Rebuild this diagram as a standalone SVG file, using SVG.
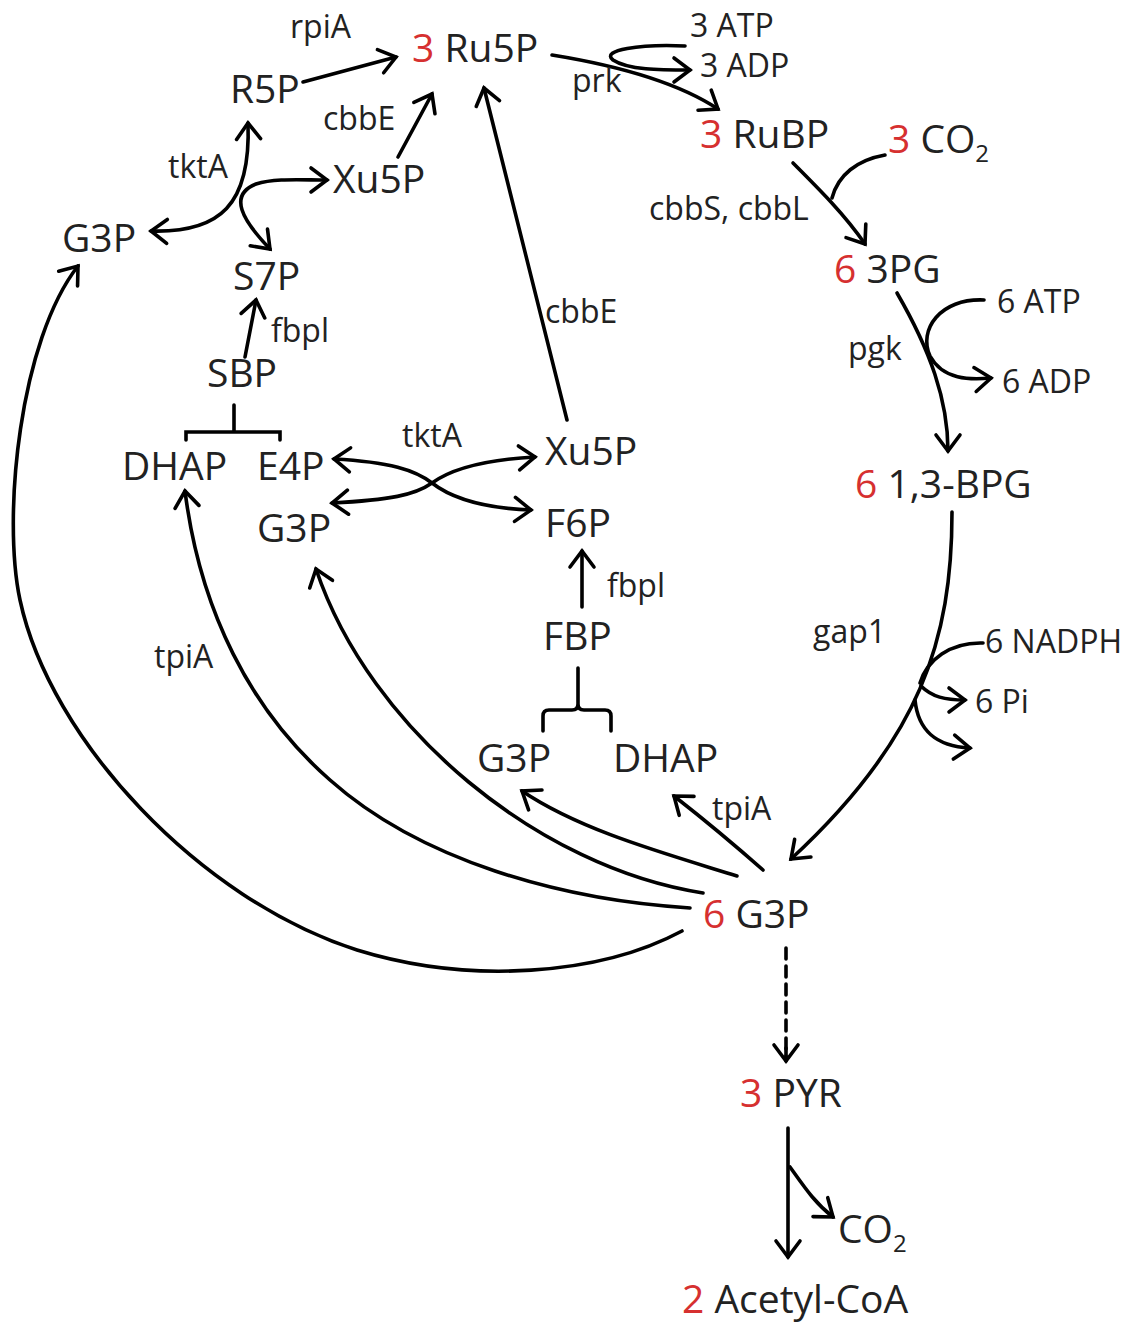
<svg xmlns="http://www.w3.org/2000/svg" width="1131" height="1323" viewBox="0 0 1131 1323">
<style>
text{font-family:"Open Sans","Noto Sans","Liberation Sans",sans-serif;fill:#222}
.m{font-size:39px}
.s{font-size:32px}
.r{fill:#d63030}
.sub{font-size:24px}
.c{fill:none;stroke:#000;stroke-width:3.6;stroke-linecap:round}
.a{marker-end:url(#ah)}
.b{marker-start:url(#ah);marker-end:url(#ah)}
</style>
<defs>
<marker id="ah" viewBox="-20 -15 24 30" markerWidth="24" markerHeight="30" refX="0" refY="0" orient="auto-start-reverse" markerUnits="userSpaceOnUse" overflow="visible">
<path d="M-16,-12 L0,0 L-16,12" fill="none" stroke="#000" stroke-width="3.6" stroke-linecap="round" stroke-linejoin="miter"/>
</marker>
</defs>
<rect width="1131" height="1323" fill="#fff"/>

<g id="connectors">
<!-- top left -->
<path class="c a" d="M303,82 L396,57"/>
<path class="c a" d="M398,157 L432,94"/>
<path class="c b" d="M151,231 C 220,233 251,205 248,123"/>
<path class="c b" d="M270,249 C 242,220 228,195 256,184 C 275,178 300,180 327,180"/>
<path class="c a" d="M245,357 L256,300"/>
<path class="c" d="M234,405 L234,432 M186,440 L186,432 L280,432 L280,440"/>
<!-- middle tktA crossing -->
<path class="c b" d="M334,459 C 390,462 415,470 432,483 C 450,497 480,508 531,510"/>
<path class="c b" d="M332,503 C 390,500 415,495 432,483 C 450,470 480,460 535,457"/>
<path class="c a" d="M567,420 L484,88"/>
<!-- FBP -->
<path class="c a" d="M582,607 L582,551"/>
<path class="c" d="M578,668 L578,704 Q578,710 572,710 L549,710 Q543,710 543,716 L543,731 M578,704 Q578,710 584,710 L605,710 Q611,710 611,716 L611,731"/>
<!-- right side -->
<path class="c a" d="M552,55 C 620,66 680,84 718,109"/>
<path class="c a" d="M685,46 C 640,44 600,50 613,60 C 628,70 660,70 690,70"/>
<path class="c a" d="M793,163 C 820,190 845,215 865,244"/>
<path class="c" d="M885,155 C 857,160 838,175 832,198"/>
<path class="c a" d="M897,293 C 930,350 948,400 948,451"/>
<path class="c a" d="M984,300 C 940,298 918,330 930,356 C 943,380 970,380 991,378"/>
<path class="c a" d="M952,512 C 952,640 920,740 791,859"/>
<path class="c" d="M983,643 C 950,642 927,660 920,683"/>
<path class="c a" d="M921,686 C 932,697 945,700 965,700"/>
<path class="c a" d="M915,700 C 918,730 935,746 970,748"/>
<!-- arcs from 6 G3P -->
<path class="c a" d="M763,870 Q 720,832 674,796"/>
<path class="c a" d="M737,876 C 660,852 580,830 522,791"/>
<path class="c a" d="M703,893 C 540,868 370,730 316,569"/>
<path class="c a" d="M690,908 C 560,900 420,860 330,780 C 250,710 200,610 185,491"/>
<path class="c a" d="M682,931 C 600,975 470,985 357,950 C 200,900 50,740 20,600 C 2,515 20,340 78,266"/>
<!-- bottom -->
<path class="c" d="M786,948 L786,1058" stroke-dasharray="11,7" stroke-linecap="butt"/>
<path class="c a" d="M786,1048 L786,1061"/>
<path class="c a" d="M788,1128 L788,1257"/>
<path class="c a" d="M790,1167 C 805,1188 815,1203 833,1217"/>
</g>

<g id="n_ru5p"><text class="m" x="412" y="62"><tspan class="r">3</tspan> Ru5P</text></g>
<g id="n_r5p"><text class="m" x="230" y="103">R5P</text></g>
<g id="n_xu5p_top"><text class="m" x="333" y="193">Xu5P</text></g>
<g id="n_g3p_left"><text class="m" x="62" y="252">G3P</text></g>
<g id="n_s7p"><text class="m" x="233" y="290">S7P</text></g>
<g id="n_sbp"><text class="m" x="207" y="387">SBP</text></g>
<g id="n_dhap_left"><text class="m" x="122" y="480">DHAP</text></g>
<g id="n_e4p"><text class="m" x="257" y="480">E4P</text></g>
<g id="n_g3p_mid"><text class="m" x="257" y="542">G3P</text></g>
<g id="n_xu5p_mid"><text class="m" x="545" y="465">Xu5P</text></g>
<g id="n_f6p"><text class="m" x="545" y="537">F6P</text></g>
<g id="n_fbp"><text class="m" x="543" y="650">FBP</text></g>
<g id="n_g3p_low"><text class="m" x="477" y="772">G3P</text></g>
<g id="n_dhap_low"><text class="m" x="613" y="772">DHAP</text></g>
<g id="n_g3p6"><text class="m" x="703" y="928"><tspan class="r">6</tspan> G3P</text></g>
<g id="n_pyr"><text class="m" x="740" y="1107"><tspan class="r">3</tspan> PYR</text></g>
<g id="n_acoa"><text class="m" x="682" y="1313"><tspan class="r">2</tspan> Acetyl-CoA</text></g>
<g id="n_rubp"><text class="m" x="700" y="148"><tspan class="r">3</tspan> RuBP</text></g>
<g id="n_co2_top"><text class="m" x="888" y="153"><tspan class="r">3</tspan> CO<tspan class="sub" dy="9">2</tspan></text></g>
<g id="n_3pg"><text class="m" x="834" y="283"><tspan class="r">6</tspan> 3PG</text></g>
<g id="n_bpg"><text class="m" x="855" y="498"><tspan class="r">6</tspan> 1,3-BPG</text></g>
<g id="n_co2_bot"><text class="m" x="838" y="1243">CO<tspan class="sub" dy="9">2</tspan></text></g>

<g id="labels">
<text class="s" x="290" y="38">rpiA</text>
<text class="s" x="323" y="130">cbbE</text>
<text class="s" x="168" y="178">tktA</text>
<text class="s" x="690" y="37">3 ATP</text>
<text class="s" x="700" y="77">3 ADP</text>
<text class="s" x="572" y="92">prk</text>
<text class="s" x="649" y="220">cbbS, cbbL</text>
<text class="s" x="848" y="360">pgk</text>
<text class="s" x="997" y="313">6 ATP</text>
<text class="s" x="1002" y="393">6 ADP</text>
<text class="s" x="545" y="323">cbbE</text>
<text class="s" x="271" y="342">fbpl</text>
<text class="s" x="402" y="447">tktA</text>
<text class="s" x="607" y="597">fbpl</text>
<text class="s" x="813" y="643">gap1</text>
<text class="s" x="985" y="653">6 NADPH</text>
<text class="s" x="975" y="713">6 Pi</text>
<text class="s" x="154" y="668">tpiA</text>
<text class="s" x="712" y="820">tpiA</text>
</g>
</svg>
